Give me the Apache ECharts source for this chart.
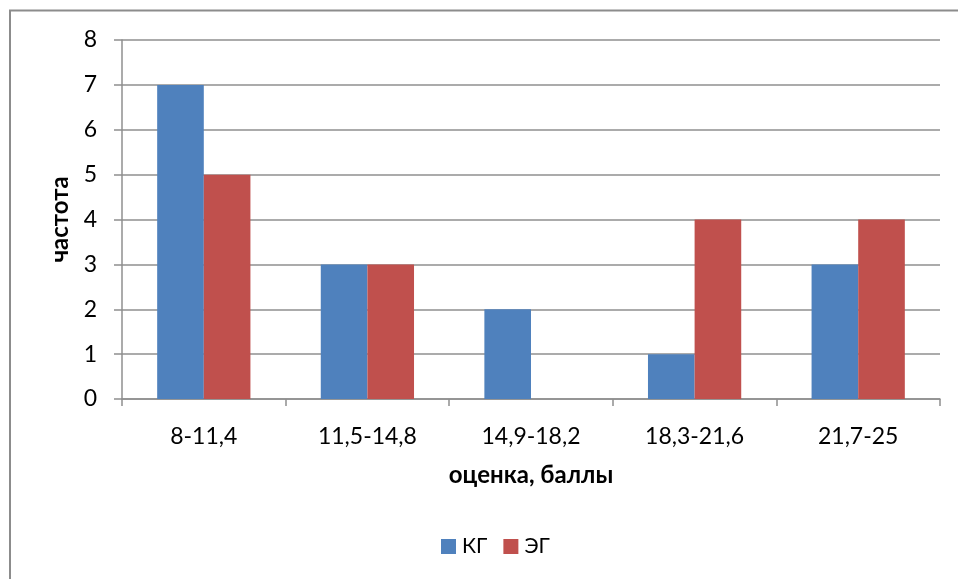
<!DOCTYPE html>
<html>
<head>
<meta charset="utf-8">
<script src="https://cdn.jsdelivr.net/npm/echarts@6/dist/echarts.min.js"></script>
<style>
  html, body { margin: 0; padding: 0; background: #ffffff; }
  #chart { width: 958px; height: 579px; }
</style>
</head>
<body>
<div id="chart"></div>
<script>
// Score intervals (x axis) and frequencies for the two groups
const categories = ['8-11,4', '11,5-14,8', '14,9-18,2', '18,3-21,6', '21,7-25'];
const seriesNames = ['КГ', 'ЭГ'];
const kgValues = [7, 3, 2, 1, 3];
const egValues = [5, 3, 0, 4, 4];
const yTicks = [0, 1, 2, 3, 4, 5, 6, 7, 8];

const FONT = 'Lato, "Open Sans", sans-serif';
const gridColor = '#8f8f8f';

const chart = echarts.init(document.getElementById('chart'), null, { renderer: 'canvas' });

chart.setOption({
  backgroundColor: '#ffffff',
  animation: false,
  graphic: [{
    type: 'rect',
    shape: { x: 10, y: 10.5, width: 1200, height: 900 },
    style: { fill: 'none', stroke: '#8c8c8c', lineWidth: 2 },
    silent: true
  }],
  grid: { left: 122, right: 18, top: 40, bottom: 180, containLabel: false },
  legend: {
    data: seriesNames,
    top: 536,
    left: 441,
    padding: 0,
    itemWidth: 15,
    itemHeight: 15,
    itemGap: 16,
    icon: 'rect',
    textStyle: { fontFamily: FONT, fontSize: 21, color: '#000000', padding: [0, 0, 0, 1] }
  },
  xAxis: {
    type: 'category',
    data: categories,
    name: 'оценка, баллы',
    nameLocation: 'middle',
    nameGap: 64,
    nameTextStyle: { fontFamily: FONT, fontSize: 24, fontWeight: 'bold', color: '#000000' },
    axisLine: { lineStyle: { color: gridColor, width: 1.5 } },
    axisTick: { show: true, length: 7, alignWithLabel: false, lineStyle: { color: gridColor, width: 1.5 } },
    axisLabel: { fontFamily: FONT, fontSize: 23, color: '#000000', margin: 26 }
  },
  yAxis: {
    type: 'value',
    min: yTicks[0],
    max: yTicks[yTicks.length - 1],
    interval: 1,
    name: 'частота',
    nameLocation: 'middle',
    nameGap: 48,
    nameTextStyle: { fontFamily: FONT, fontSize: 24, fontWeight: 'bold', color: '#000000' },
    axisLine: { show: true, lineStyle: { color: gridColor, width: 1.5 } },
    axisTick: { show: true, length: 8, lineStyle: { color: gridColor, width: 1.5 } },
    axisLabel: { fontFamily: FONT, fontSize: 23, color: '#000000', margin: 25 },
    splitLine: { show: true, lineStyle: { color: gridColor, width: 1.5 } }
  },
  series: [
    {
      name: seriesNames[0],
      type: 'bar',
      data: kgValues,
      barGap: '0%',
      barCategoryGap: '43%',
      itemStyle: { color: '#4f81bd' }
    },
    {
      name: seriesNames[1],
      type: 'bar',
      data: egValues,
      barGap: '0%',
      barCategoryGap: '43%',
      itemStyle: { color: '#c0504d' }
    }
  ]
});
</script>
</body>
</html>
